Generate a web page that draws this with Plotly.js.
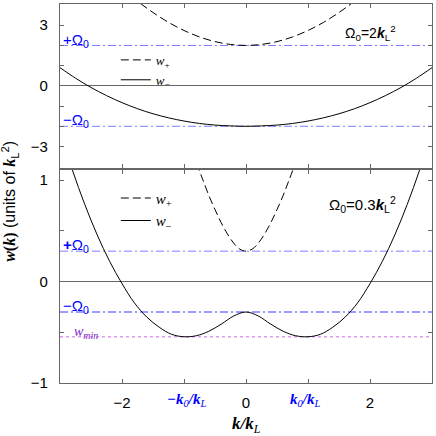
<!DOCTYPE html>
<html>
<head>
<meta charset="utf-8">
<script src="https://cdn.plot.ly/plotly-3.0.1.min.js"></script>
<style>
  html, body { margin: 0; padding: 0; background: #fff; }
  #myDiv { width: 436px; height: 436px; }
</style>
</head>
<body>
<div id="myDiv"></div>
<script>
// ---------------- values ----------------
// top panel, Omega0 = 2 kL^2
var kTop = [-3, -2.75, -2.5, -2.25, -2, -1.75, -1.5, -1.25, -1, -0.75, -0.5, -0.25, 0,
            0.25, 0.5, 0.75, 1, 1.25, 1.5, 1.75, 2, 2.25, 2.5, 2.75, 3];
var wMinusTop = [0.90, 0.38, -0.08, -0.48, -0.83, -1.13, -1.38, -1.58, -1.74, -1.86, -1.94, -1.98, -2.00,
                 -1.98, -1.94, -1.86, -1.74, -1.58, -1.38, -1.13, -0.83, -0.48, -0.08, 0.38, 0.90];
var kTopPlus = [-2, -1.75, -1.5, -1.25, -1, -0.75, -0.5, -0.25, 0, 0.25, 0.5, 0.75, 1, 1.25, 1.5, 1.75, 2];
var wPlusTop = [4.83, 4.19, 3.63, 3.14, 2.74, 2.42, 2.19, 2.05, 2.00, 2.05, 2.19, 2.42, 2.74, 3.14, 3.63, 4.19, 4.83];

// bottom panel, Omega0 = 0.3 kL^2
var kBot = [-3, -2.8, -2.6, -2.4, -2.2, -2, -1.8, -1.6, -1.4, -1.2, -1, -0.8, -0.6, -0.4, -0.2, 0,
            0.2, 0.4, 0.6, 0.8, 1, 1.2, 1.4, 1.6, 1.8, 2, 2.2, 2.4, 2.6, 2.8, 3];
var wMinusBot = [1.49, 1.10, 0.76, 0.46, 0.20, -0.02, -0.21, -0.35, -0.45, -0.52, -0.544, -0.534, -0.49, -0.42, -0.34, -0.30,
                 -0.34, -0.42, -0.49, -0.534, -0.544, -0.52, -0.45, -0.35, -0.21, -0.02, 0.20, 0.46, 0.76, 1.10, 1.49];
var kBotPlus = [-0.8, -0.7, -0.6, -0.5, -0.4, -0.3, -0.2, -0.1, 0, 0.1, 0.2, 0.3, 0.4, 0.5, 0.6, 0.7, 0.8];
var wPlusBot = [1.17, 1.01, 0.85, 0.71, 0.58, 0.47, 0.38, 0.32, 0.30, 0.32, 0.38, 0.47, 0.58, 0.71, 0.85, 1.01, 1.17];

var omegaTop = 2;
var omegaBot = 0.3;
var wMinLevel = -0.545;
var k0Marks = [-0.954, 0.954];
var k0Labels = ['<b><i>−k</i></b><sub><i>0</i></sub><b><i>/k</i></b><sub><i>L</i></sub>',
                '<b><i>k</i></b><sub><i>0</i></sub><b><i>/k</i></b><sub><i>L</i></sub>'];

var xTickVals = [-2, -1, 0, 1, 2];
var xTickText = ['−2', '', '0', '', '2'];
var yTopTickVals = [-3, -2, -1, 0, 1, 2, 3];
var yTopTickText = ['−3', '', '', '0', '', '', '3'];
var yBotTickVals = [-1, -0.5, 0, 0.5, 1];
var yBotTickText = ['−1', '', '0', '', '1'];

// ---------------- styles ----------------
var frame = '#666';
var blueTxt = '#0000ff';
var blueLine = 'rgb(125,125,255)';
var dashDot = '8px,3px,2px,3px';
var dashW = '8px,4px';
var serif = 'Liberation Serif';
var sans = 'Liberation Sans';

var wPlusName = '<i>w</i><sub>+</sub>';
var wMinusName = '<i>w</i><sub>−</sub>';

var data = [
  {x: kTopPlus, y: wPlusTop, xaxis: 'x2', yaxis: 'y2', type: 'scatter', mode: 'lines',
   line: {color: 'black', width: 1, dash: dashW, shape: 'spline'}, name: wPlusName, legend: 'legend'},
  {x: kTop, y: wMinusTop, xaxis: 'x2', yaxis: 'y2', type: 'scatter', mode: 'lines',
   line: {color: 'black', width: 1, shape: 'spline'}, name: wMinusName, legend: 'legend'},
  {x: kBotPlus, y: wPlusBot, xaxis: 'x', yaxis: 'y', type: 'scatter', mode: 'lines',
   line: {color: 'black', width: 1, dash: dashW, shape: 'spline'}, name: wPlusName, legend: 'legend2'},
  {x: kBot, y: wMinusBot, xaxis: 'x', yaxis: 'y', type: 'scatter', mode: 'lines',
   line: {color: 'black', width: 1, shape: 'spline'}, name: wMinusName, legend: 'legend2'},
  {x: k0Marks, y: k0Marks.map(function () { return -1.025; }), xaxis: 'x', yaxis: 'y',
   type: 'scatter', mode: 'markers', cliponaxis: false, showlegend: false,
   marker: {symbol: 'triangle-up', size: 6, color: blueTxt}}
];

function axX(extra) {
  var a = {
    range: [-3, 3], tickvals: xTickVals, ticktext: xTickText,
    ticks: 'inside', ticklen: 4, tickcolor: frame, tickwidth: 1,
    showline: true, linecolor: frame, linewidth: 1.2, mirror: 'ticks',
    showgrid: false, zeroline: false,
    tickfont: {family: sans, size: 15, color: 'black'}, ticklabelstandoff: 6
  };
  for (var key in extra) a[key] = extra[key];
  return a;
}
function axY(extra) {
  var a = {
    ticks: 'inside', ticklen: 4, tickcolor: frame, tickwidth: 1,
    showline: true, linecolor: frame, linewidth: 1.2, mirror: 'ticks',
    showgrid: false, zeroline: true, zerolinecolor: frame, zerolinewidth: 1,
    tickfont: {family: sans, size: 15, color: 'black'}, ticklabelstandoff: 8
  };
  for (var key in extra) a[key] = extra[key];
  return a;
}

function hline(xr, yr, val, color, dash, width) {
  return {type: 'line', xref: xr + ' domain', x0: 0, x1: 1, yref: yr, y0: val, y1: val,
          layer: 'below', line: {color: color, width: width, dash: dash}};
}

function note(text, x, y, xr, yr, opts) {
  var a = {text: text, x: x, y: y, xref: xr, yref: yr, showarrow: false,
           font: {family: sans, size: 15, color: 'black'}};
  for (var key in opts) a[key] = opts[key];
  return a;
}

var annotations = [
  note('+Ω<sub>0</sub>', 0, omegaTop, 'paper', 'y2', {xanchor: 'left', yanchor: 'middle', xshift: 1, yshift: 5, font: {family: sans, size: 15, color: blueTxt}}),
  note('−Ω<sub>0</sub>', 0, -omegaTop, 'paper', 'y2', {xanchor: 'left', yanchor: 'middle', xshift: 1, yshift: 6, font: {family: sans, size: 15, color: blueTxt}}),
  note('<b>+</b>Ω<sub>0</sub>', 0, omegaBot, 'paper', 'y', {xanchor: 'left', yanchor: 'middle', xshift: 1, yshift: 6, font: {family: sans, size: 15, color: blueTxt}}),
  note('−Ω<sub>0</sub>', 0, -omegaBot, 'paper', 'y', {xanchor: 'left', yanchor: 'middle', xshift: 1, yshift: 6, font: {family: sans, size: 15, color: blueTxt}}),
  note('<i>w</i><sub><i>min</i></sub>', 0, wMinLevel, 'paper', 'y', {xanchor: 'left', yanchor: 'middle', xshift: 12, yshift: 4, font: {family: serif, size: 14, color: '#8226c8'}}),
  note('Ω<sub>0</sub>=2<b><i>k</i></b><sub>L</sub><sup>2</sup>', 2.0, 2.62, 'x2', 'y2', {xanchor: 'center', yanchor: 'middle', font: {family: sans, size: 14, color: 'black'}}),
  note('Ω<sub>0</sub>=0.3<b><i>k</i></b><sub>L</sub><sup>2</sup>', 1.88, 0.76, 'x', 'y', {xanchor: 'center', yanchor: 'middle', font: {family: sans, size: 15, color: 'black'}}),
  note(k0Labels[0], k0Marks[0], -0.045, 'x', 'paper', {xanchor: 'center', yanchor: 'middle', font: {family: serif, size: 15, color: blueTxt}}),
  note(k0Labels[1], k0Marks[1], -0.045, 'x', 'paper', {xanchor: 'center', yanchor: 'middle', font: {family: serif, size: 15, color: blueTxt}}),
  note('<b><i>k/k</i></b><sub><i>L</i></sub>', 0, -0.11, 'x', 'paper', {xanchor: 'center', yanchor: 'middle', font: {family: serif, size: 17, color: 'black'}}),
  note('<span style="font-family:Liberation Serif"><b><i>w</i>(<i>k</i>)</b></span> (units of <span style="font-family:Liberation Serif"><b><i>k</i></b></span><sub>L</sub><sup>2</sup>)',
       -0.135, 0.48, 'paper', 'paper', {textangle: -90, xanchor: 'center', yanchor: 'middle', font: {family: sans, size: 16, color: 'black'}})
];

var layout = {
  width: 436, height: 436,
  margin: {l: 60, r: 4, t: 4, b: 53},
  paper_bgcolor: 'white', plot_bgcolor: 'white',
  showlegend: true,
  xaxis: axX({anchor: 'y', domain: [0, 1]}),
  xaxis2: axX({anchor: 'y2', domain: [0, 1], matches: 'x', showticklabels: false}),
  yaxis: axY({anchor: 'x', domain: [0, 0.562], range: [-1, 1.1], tickvals: yBotTickVals, ticktext: yBotTickText}),
  yaxis2: axY({anchor: 'x2', domain: [0.568, 1], range: [-4.05, 4.05], tickvals: yTopTickVals, ticktext: yTopTickText}),
  legend: {x: 0.15, y: 0.892, xanchor: 'left', yanchor: 'top', bgcolor: 'rgba(0,0,0,0)',
           font: {family: serif, size: 13, color: 'black'}, tracegroupgap: 0},
  legend2: {x: 0.15, y: 0.531, xanchor: 'left', yanchor: 'top', bgcolor: 'rgba(0,0,0,0)',
            font: {family: serif, size: 15, color: 'black'}, tracegroupgap: 0},
  shapes: [
    hline('x2', 'y2', omegaTop, blueLine, dashDot, 1),
    hline('x2', 'y2', -omegaTop, blueLine, dashDot, 1),
    hline('x', 'y', omegaBot, blueLine, dashDot, 1),
    hline('x', 'y', -omegaBot, blueLine, dashDot, 1.5),
    hline('x', 'y', wMinLevel, 'rgb(205,100,240)', 'dot', 1)
  ],
  annotations: annotations
};

Plotly.newPlot('myDiv', data, layout, {staticPlot: true});
</script>
</body>
</html>
